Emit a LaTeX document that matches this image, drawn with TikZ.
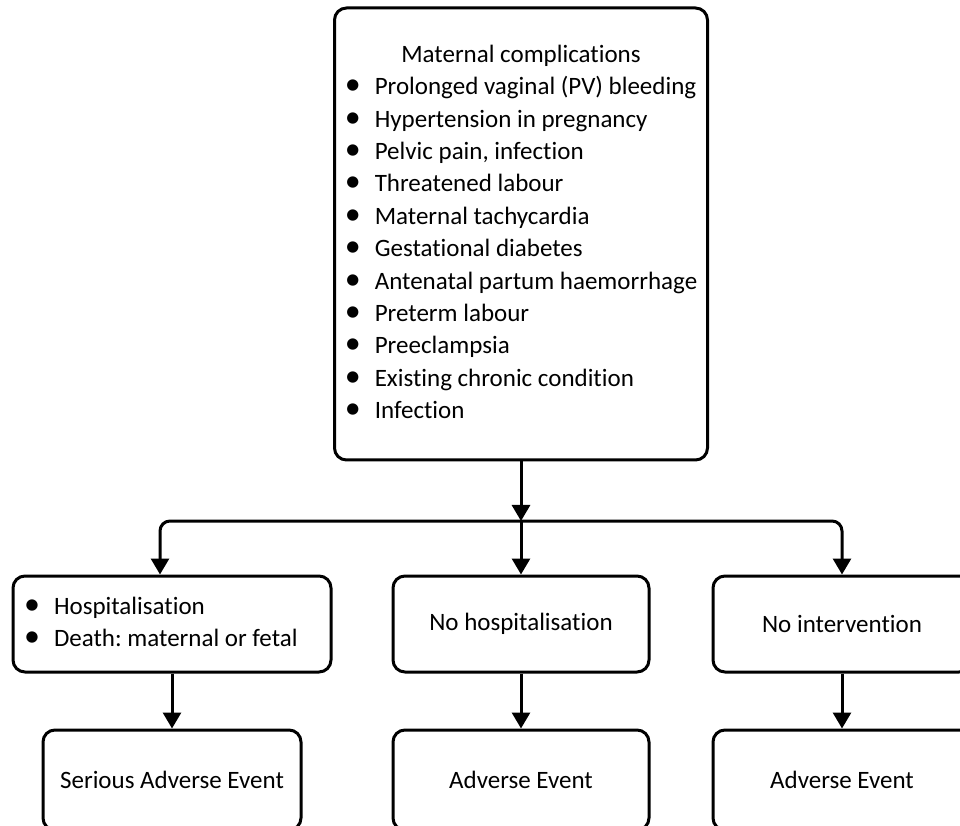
\documentclass[tikz,border=0pt]{standalone}
\usepackage{fontspec}
\setmainfont{Carlito}[Ligatures=CommonOff]
\usetikzlibrary{arrows.meta}
\newcommand{\itm}[1]{\makebox[30pt][l]{\fontsize{32}{32}\selectfont\textbullet}#1}
\tikzset{
  roundbox/.style={draw, line width=3pt, rounded corners=12pt, minimum height=96pt, inner sep=0pt,
    font=\fontsize{25}{32.4}\selectfont\frenchspacing},
  arrowline/.style={line width=3pt, -{Triangle[width=18pt,length=16pt]}},
}
\begin{document}
\begin{tikzpicture}[x=1pt,y=1pt]
    \clip (0,0) rectangle (960,825);

    % Top box with the list of complications
    \node[roundbox, minimum width=373pt, minimum height=452pt] (matcomp) at (521,591) {%
      \begin{tabular}{@{}l@{}}
        \multicolumn{1}{c}{Maternal complications}\\
        \itm{Prolonged vaginal (PV) bleeding}\\
        \itm{Hypertension in pregnancy}\\
        \itm{Pelvic pain, infection}\\
        \itm{Threatened labour}\\
        \itm{Maternal tachycardia}\\
        \itm{Gestational diabetes}\\
        \itm{Antenatal partum haemorrhage}\\
        \itm{Preterm labour}\\
        \itm{Preeclampsia}\\
        \itm{Existing chronic condition}\\
        \itm{Infection}
      \end{tabular}};

    % Outcomes
    \node[roundbox, text width=296pt, inner xsep=11pt, align=flush left] (hosp) at (172,201) {%
      \raisebox{-2pt}{\begin{tabular}{@{}l@{}}
        \itm{Hospitalisation}\\
        \itm{Death: maternal or fetal}
      \end{tabular}}};
    \node[roundbox, minimum width=256pt] (nohosp) at (521,201) {No hospitalisation};
    \node[roundbox, minimum width=258pt] (nointerv) at (842,201) {No intervention};

    % Events
    \node[roundbox, minimum width=258pt, minimum height=100pt] (sae) at (172,45) {Serious Adverse Event};
    \node[roundbox, minimum width=256pt, minimum height=100pt] (ae1) at (521,45) {Adverse Event};
    \node[roundbox, minimum width=258pt, minimum height=100pt] (ae2) at (842,45) {Adverse Event};

    % Arrows
    \coordinate (split) at (521,304);
    \draw[arrowline] (matcomp) -- (split);
    \draw[arrowline] (split) -- (nohosp);
    \draw[arrowline, rounded corners=10pt] (split) -| ([xshift=-12pt]hosp.north);
    \draw[arrowline, rounded corners=10pt] (split) -| (nointerv.north);
    \draw[arrowline] (hosp) -- (sae);
    \draw[arrowline] (nohosp) -- (ae1);
    \draw[arrowline] (nointerv) -- (ae2);
\end{tikzpicture}
\end{document}
